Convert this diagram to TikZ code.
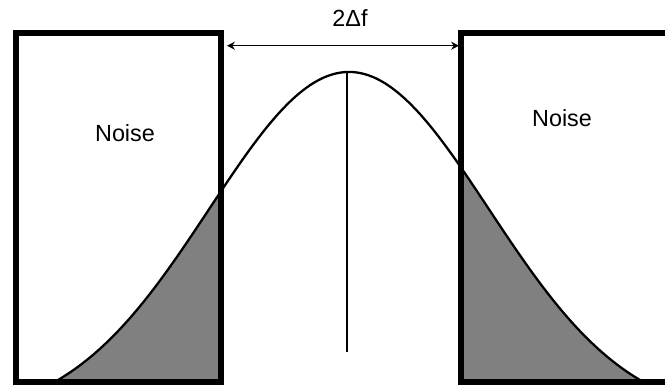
\documentclass[tikz,border=0pt]{standalone}
\usepackage{fontspec}
\setmainfont{Liberation Sans}
\usetikzlibrary{arrows.meta,positioning}
\definecolor{inkdark}{HTML}{000000}
\definecolor{tailgray}{HTML}{808080}

\begin{document}
\begin{tikzpicture}[
  x=0.02cm, y=-0.02cm,
  noisebox/.style={draw=inkdark, line width=3.4pt, inner sep=0pt, minimum height=7cm},
  label/.style={font=\fontsize{13.3}{16}\selectfont, text=inkdark, inner sep=0pt},
  bellline/.style={draw=inkdark, line width=1.3pt},
  arr/.style={{Stealth[length=4.5pt,width=4.6pt]}-{Stealth[length=4.5pt,width=4.6pt]}, line width=0.6pt, color=inkdark},
  declare function={bell(\x)=380-347.6*(exp(-(((\x-349)/100)^2)/3.9)-0.114);}
]
  \useasboundingbox (0,0) rectangle (665,385);
  \clip (0,0) rectangle (665,385);

  % shaded tails under the curve
  \fill[tailgray] (57,383) -- plot[domain=57:221.5, samples=60] (\x,{bell(\x)}) -- (221.5,383) -- cycle;
  \fill[tailgray] (461,383) -- plot[domain=461:641, samples=60] (\x,{bell(\x)}) -- (641,383) -- cycle;
  \draw[bellline] plot[domain=57:641, samples=200, smooth] (\x,{bell(\x)});

  \node[noisebox, minimum width=4.11cm] (leftbox) at (118.75,207.5) {};
  \node[noisebox, minimum width=4.16cm] (rightbox) at (565,207.5) {};

  \node[label] (leftnoise) at (125,133) {Noise};
  \node[label] (rightnoise) at (562,118) {Noise};

  \coordinate (peak) at (347,73);
  \coordinate (foot) at (347,352);
  \draw[line width=0.75pt, inkdark] (peak) -- (foot);

  \coordinate (bwl) at (227,45.7);
  \coordinate (bwr) at (459,45.7);
  \draw[arr] (bwl) -- (bwr);
  \node[label] (bw) at (350,18) {2Δf};
\end{tikzpicture}
\end{document}
